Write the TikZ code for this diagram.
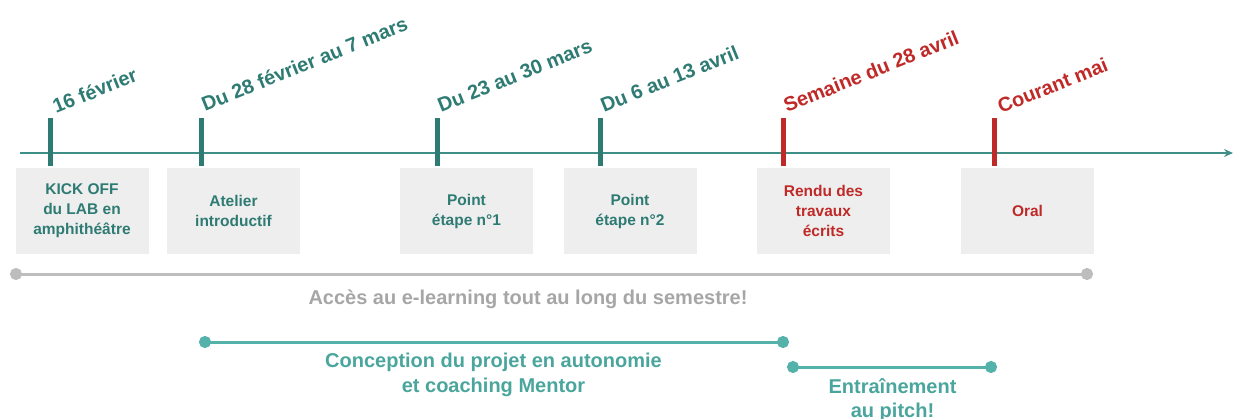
\documentclass[tikz,border=0pt]{standalone}
\usepackage{fontspec}
\setmainfont{Liberation Sans}
\usetikzlibrary{arrows.meta,calc}
\definecolor{tealdark}{HTML}{2E7B73}
\definecolor{tealaxis}{HTML}{3F8E88}
\definecolor{redd}{HTML}{BF2A28}
\definecolor{boxgray}{HTML}{EEEEEE}
\definecolor{linegray}{HTML}{BDBDBD}
\definecolor{textgray}{HTML}{A6A6A6}
\definecolor{tealight}{HTML}{55B2AB}
\definecolor{tealtext}{HTML}{4AA69D}
\tikzset{
  evbox/.style={fill=boxgray, draw=none, minimum width=133pt, minimum height=86pt, inner sep=0pt,
    align=center, font=\bfseries\fontsize{15.5}{20}\selectfont},
  datelbl/.style={rotate=22, anchor=base west, inner sep=0pt, font=\bfseries\fontsize{20}{24}\selectfont},
  tick/.style={line width=5pt},
  dotline/.style={line width=3pt, {Circle[length=12pt]}-{Circle[length=12pt]}, shorten <=-6pt, shorten >=-6pt},
  lowlbl/.style={align=center, inner sep=0pt, font=\bfseries\fontsize{20}{24.5}\selectfont},
}
\begin{document}
\begin{tikzpicture}[x=1pt,y=-1pt]
\useasboundingbox (0,0) rectangle (1233,418);
% boxes
\node[evbox, text=tealdark] (b1) at (82,211) {KICK OFF\\du LAB en\\amphithéâtre};
\node[evbox, text=tealdark] (b2) at (233.5,211) {Atelier\\introductif};
\node[evbox, text=tealdark] (b3) at (466.5,211) {Point\\étape n°1};
\node[evbox, text=tealdark] (b4) at (630,211) {Point\\étape n°2};
\node[evbox, text=redd] (b5) at (823.5,211) {Rendu des\\travaux\\écrits};
\node[evbox, text=redd] (b6) at (1027.5,211) {Oral};
% axis
\coordinate (axL) at (20,153);
\coordinate (axR) at (1233,153);
\draw[tealaxis, line width=1.6pt, -{Stealth[length=9pt,width=8pt,inset=3pt]}] (axL) -- (axR);
% ticks
\foreach \n/\x/\c in {1/50/tealdark,2/201/tealdark,3/437/tealdark,4/600/tealdark,5/783/redd,6/994/redd}{
  \coordinate (t\n a) at (\x,118);
  \coordinate (t\n b) at (\x,166);
  \draw[tick, \c] (t\n a) -- (t\n b);
}
% date labels
\node[datelbl, text=tealdark] (d1) at ($(t1a)+(6,-4)$) {16 février};
\node[datelbl, text=tealdark] (d2) at ($(t2a)+(4,-6)$) {Du 28 février au 7 mars};
\node[datelbl, text=tealdark] (d3) at ($(t3a)+(4,-5)$) {Du 23 au 30 mars};
\node[datelbl, text=tealdark] (d4) at ($(t4a)+(4,-5)$) {Du 6 au 13 avril};
\node[datelbl, text=redd] (d5) at ($(t5a)+(4,-5)$) {Semaine du 28 avril};
\node[datelbl, text=redd] (d6) at ($(t6a)+(7,-4)$) {Courant mai};
% e-learning
\coordinate (g1) at (16,274);
\coordinate (g2) at (1087,274);
\draw[dotline, linegray] (g1) -- (g2);
\node[lowlbl, text=textgray, anchor=base] (gl) at (528,304) {Accès au e-learning tout au long du semestre!};
% conception
\coordinate (c1) at (205,342);
\coordinate (c2) at (783,342);
\draw[dotline, tealight] (c1) -- (c2);
\node[lowlbl, text=tealtext] (cl) at (493.5,375) {Conception du projet en autonomie\\et coaching Mentor};
% entrainement
\coordinate (e1) at (793,367);
\coordinate (e2) at (991,367);
\draw[dotline, tealight] (e1) -- (e2);
\node[lowlbl, text=tealtext] (el) at (892.5,400) {Entraînement\\au pitch!};
\end{tikzpicture}
\end{document}
